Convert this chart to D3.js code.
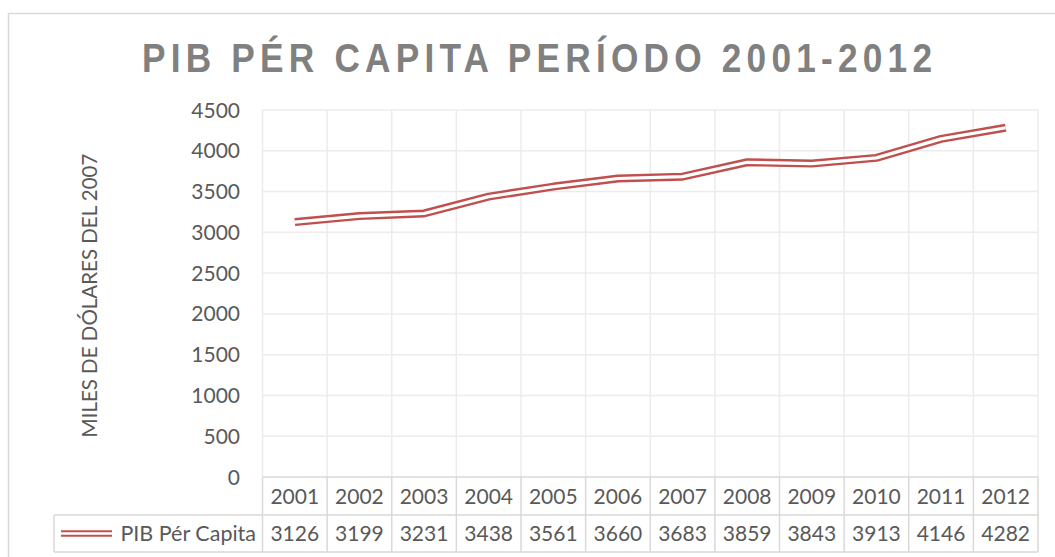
<!DOCTYPE html>
<html lang="es">
<head>
<meta charset="utf-8">
<title>PIB per capita 2001-2012</title>
<script src="https://cdn.jsdelivr.net/npm/d3@7"></script>
<style>
  body { margin: 0; background: #fff; }
  svg text { font-family: Lato, "Open Sans", sans-serif; fill: #595959; }
  .title { font-family: "Liberation Sans", Arial, sans-serif; font-weight: bold; fill: #808080; }
</style>
</head>
<body>
<div id="chart"></div>
<script>
// data
const years = ["2001","2002","2003","2004","2005","2006","2007","2008","2009","2010","2011","2012"];
const pibValues = [3126, 3199, 3231, 3438, 3561, 3660, 3683, 3859, 3843, 3913, 4146, 4282];
const yTicks = [0, 500, 1000, 1500, 2000, 2500, 3000, 3500, 4000, 4500];
const seriesName = "PIB Pér Capita";
const titleText = "PIB PÉR CAPITA PERÍODO 2001-2012";
const yLabel = "MILES DE DÓLARES DEL 2007";

const W = 1055, H = 557;
const lineColor = "#C0504D", gridColor = "#ececec", tableColor = "#d9d9d9";

const svg = d3.select("#chart").append("svg")
    .attr("width", W).attr("height", H);

// chart border
svg.append("rect")
    .attr("x", 8.5).attr("y", 13.5)
    .attr("width", W + 20).attr("height", H + 20)
    .attr("fill", "none").attr("stroke", tableColor).attr("stroke-width", 1.5);

// title (narrow glyphs, wide spacing like the original)
const squeeze = 0.86;
svg.append("text").attr("class", "title")
    .attr("transform", "translate(142,72) scale(" + squeeze + ",1)")
    .attr("font-size", 41)
    .attr("textLength", 790 / squeeze).attr("lengthAdjust", "spacing")
    .text(titleText);

// scales
const x = d3.scaleBand().domain(years).range([262.5, 1038]);
const y = d3.scaleLinear().domain([0, 4500]).range([477, 110]);

// horizontal gridlines
svg.append("g").selectAll("line")
    .data(yTicks.slice(1))
    .enter().append("line")
    .attr("x1", x.range()[0]).attr("x2", x.range()[1])
    .attr("y1", d => y(d)).attr("y2", d => y(d))
    .attr("stroke", gridColor).attr("stroke-width", 1.5);

// vertical gridlines (column boundaries)
const bounds = years.map(d => x(d)).concat([x.range()[1]]);
svg.append("g").selectAll("line")
    .data(bounds)
    .enter().append("line")
    .attr("x1", d => d).attr("x2", d => d)
    .attr("y1", y(4500)).attr("y2", y(0))
    .attr("stroke", gridColor).attr("stroke-width", 1.5);

// y axis labels
svg.append("g").selectAll("text")
    .data(yTicks)
    .enter().append("text")
    .attr("x", 240).attr("y", d => y(d))
    .attr("dy", "0.36em")
    .attr("text-anchor", "end")
    .attr("font-size", 21)
    .text(d => d);

// y axis title
svg.append("text")
    .attr("transform", "translate(97," + ((y(0) + y(4500)) / 2 + 2) + ") rotate(-90)")
    .attr("text-anchor", "middle")
    .attr("font-size", 20.5)
    .text(yLabel);

// double (compound) line
const line = d3.line()
    .x((d, i) => x(years[i]) + x.bandwidth() / 2)
    .y(d => y(d));

svg.append("path").datum(pibValues)
    .attr("d", line).attr("fill", "none")
    .attr("stroke", lineColor).attr("stroke-width", 8)
    .attr("stroke-linejoin", "round");
svg.append("path").datum(pibValues)
    .attr("d", line).attr("fill", "none")
    .attr("stroke", "#fff").attr("stroke-width", 3.2)
    .attr("stroke-linejoin", "round");

// data table
const rowTop = y(0), rowMid = 515, rowBot = 552, legendLeft = 54;
const table = svg.append("g").attr("stroke", tableColor).attr("stroke-width", 1.5);
table.append("line").attr("x1", x.range()[0]).attr("x2", x.range()[1]).attr("y1", rowTop).attr("y2", rowTop);
table.append("line").attr("x1", legendLeft).attr("x2", x.range()[1]).attr("y1", rowMid).attr("y2", rowMid);
table.append("line").attr("x1", legendLeft).attr("x2", x.range()[1]).attr("y1", rowBot).attr("y2", rowBot);
table.append("line").attr("x1", legendLeft).attr("x2", legendLeft).attr("y1", rowMid).attr("y2", rowBot);
table.selectAll(".col").data(bounds).enter().append("line")
    .attr("x1", d => d).attr("x2", d => d)
    .attr("y1", rowTop).attr("y2", rowBot);

svg.append("g").selectAll("text")
    .data(years).enter().append("text")
    .attr("x", d => x(d) + x.bandwidth() / 2)
    .attr("y", (rowTop + rowMid) / 2).attr("dy", "0.36em")
    .attr("text-anchor", "middle").attr("font-size", 21)
    .text(d => d);

svg.append("g").selectAll("text")
    .data(pibValues).enter().append("text")
    .attr("x", (d, i) => x(years[i]) + x.bandwidth() / 2)
    .attr("y", (rowMid + rowBot) / 2).attr("dy", "0.36em")
    .attr("text-anchor", "middle").attr("font-size", 21)
    .text(d => d);

// legend key
const ly = (rowMid + rowBot) / 2;
svg.append("line").attr("x1", 61).attr("x2", 112).attr("y1", ly).attr("y2", ly)
    .attr("stroke", lineColor).attr("stroke-width", 6.5);
svg.append("line").attr("x1", 61).attr("x2", 112).attr("y1", ly).attr("y2", ly)
    .attr("stroke", "#fff").attr("stroke-width", 2.4);
svg.append("text")
    .attr("x", 256).attr("y", ly).attr("dy", "0.36em")
    .attr("text-anchor", "end").attr("font-size", 21.5)
    .text(seriesName);
</script>
</body>
</html>
